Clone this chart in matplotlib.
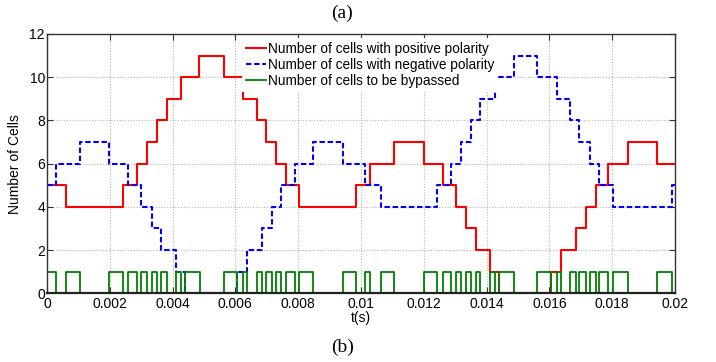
import numpy as np
import matplotlib
matplotlib.use("Agg")
from matplotlib import pyplot as plt

# step times (s) and the level reached at each time
pos_t = [0, 0.00062, 0.00241, 0.00288, 0.00317, 0.00349, 0.00381, 0.00426, 0.00485,
         0.00564, 0.00623, 0.00668, 0.00696, 0.00730, 0.00760, 0.00803, 0.00985,
         0.01029, 0.01106, 0.01200, 0.01260, 0.01303, 0.01336, 0.01366, 0.01411,
         0.01439, 0.01605, 0.01636, 0.01684, 0.01716, 0.01747, 0.01788, 0.01849,
         0.01944]
pos_n = [5, 4, 5, 6, 7, 8, 9, 10, 11, 10, 9, 8, 7, 6, 5, 4, 5,
         6, 7, 6, 5, 4, 3, 2, 1, 0, 1, 2, 3, 4, 5, 6, 7, 6]

neg_t = [0, 0.00030, 0.00104, 0.00197, 0.00258, 0.00300, 0.00333, 0.00364, 0.00412,
         0.00439, 0.00604, 0.00636, 0.00684, 0.00716, 0.00746, 0.00789, 0.00848,
         0.00944, 0.01014, 0.01063, 0.01241, 0.01286, 0.01320, 0.01349, 0.01379,
         0.01426, 0.01487, 0.01561, 0.01623, 0.01665, 0.01694, 0.01728, 0.01758,
         0.01804, 0.01989]
neg_n = [5, 6, 7, 6, 5, 4, 3, 2, 1, 0, 1, 2, 3, 4, 5, 6, 7,
         6, 5, 4, 5, 6, 7, 8, 9, 10, 11, 10, 9, 8, 7, 6, 5, 4, 5]

# bypass pulses: start and end of each pulse at level 1
byp_on = [0, 0.00061, 0.00199, 0.00257, 0.00301, 0.00333, 0.00364, 0.00412, 0.00439,
          0.00563, 0.00623, 0.00668, 0.00696, 0.00730, 0.00760, 0.00803, 0.00944,
          0.01014, 0.01063, 0.01200, 0.01260, 0.01303, 0.01336, 0.01366, 0.01411,
          0.01439, 0.01561, 0.01623, 0.01665, 0.01694, 0.01728, 0.01758, 0.01804,
          0.01944]
byp_off = [0.00029, 0.00105, 0.00241, 0.00288, 0.00317, 0.00349, 0.00381, 0.00426, 0.00486,
           0.00604, 0.00636, 0.00684, 0.00716, 0.00746, 0.00789, 0.00848, 0.00985,
           0.01029, 0.01106, 0.01241, 0.01286, 0.01320, 0.01349, 0.01379, 0.01426,
           0.01487, 0.01605, 0.01636, 0.01684, 0.01716, 0.01747, 0.01788, 0.01849,
           0.01989]

x_ticks = [0, 0.002, 0.004, 0.006, 0.008, 0.01, 0.012, 0.014, 0.016, 0.018, 0.02]
x_labels = ["0", "0.002", "0.004", "0.006", "0.008", "0.01", "0.012", "0.014",
            "0.016", "0.018", "0.02"]
y_ticks = [0, 2, 4, 6, 8, 10, 12]
t_end = 0.02

labels = ["Number of cells with positive polarity",
          "Number of cells with negative polarity",
          "Number of cells to be bypassed"]

plt.rcParams['font.family'] = ['Liberation Sans', 'DejaVu Sans']

fig = plt.figure(figsize=(7.16, 3.62), dpi=100)
ax = fig.add_axes([0.0656, 0.1898, 0.8771, 0.7163])

ax.step(pos_t + [t_end], pos_n + [pos_n[-1]], where='post', color='#ff0000',
        lw=1.5, label=labels[0])
blue, = ax.step(neg_t + [t_end], neg_n + [neg_n[-1]], where='post', color='#0000ff',
                lw=1.5, label=labels[1])
blue.set_dashes([2.6, 1.3])

# build the bypass square wave from its edges
gt = [0]
gn = [0]
for a, b in zip(byp_on, byp_off):
    gt += [a, b]
    gn += [1, 0]
gt.append(t_end)
gn.append(0)
ax.step(gt, gn, where='post', color='#008000', lw=1.3, label=labels[2])

ax.set_xlim(0, t_end)
ax.set_ylim(0, 12)
ax.set_xticks(x_ticks)
ax.set_xticklabels(x_labels)
ax.set_yticks(y_ticks)
ax.tick_params(direction='in', top=True, right=True, length=4, width=0.8,
               labelsize=10, color='#333333', pad=3)
ax.tick_params(axis='y', pad=1.5)
ax.grid(True, color='#b8b8b8', linestyle=(0, (1, 1.5)), lw=0.8)
for s in ax.spines.values():
    s.set_color('#333333')
    s.set_linewidth(1.0)
ax.spines['bottom'].set_linewidth(1.6)
ax.spines['bottom'].set_color('#222222')

ax.set_xlabel("t(s)", fontsize=10, labelpad=0)
ax.set_ylabel("Number of Cells", fontsize=10, labelpad=5)

leg = ax.legend(loc='upper left', bbox_to_anchor=(0.3105, 0.985), fontsize=9.8,
                frameon=True, fancybox=False, edgecolor='none', facecolor='white',
                framealpha=1, borderpad=0.3, borderaxespad=0, labelspacing=0.15,
                handlelength=1.5, handletextpad=0.1)

fig.text(0.478, 0.962, "(a)", family='Liberation Serif', fontsize=14,
         ha='center', va='center')
fig.text(0.478, 0.040, "(b)", family='Liberation Serif', fontsize=14,
         ha='center', va='center')

fig.savefig("out.png", dpi=100)
